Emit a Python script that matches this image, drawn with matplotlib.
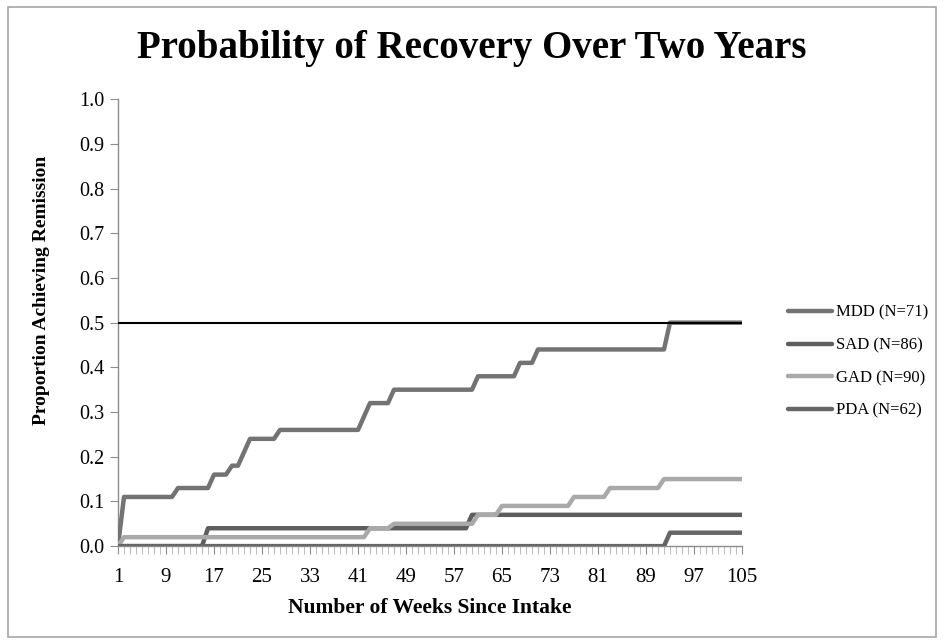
import matplotlib
matplotlib.use("Agg")
import matplotlib.pyplot as plt
from matplotlib.patches import Rectangle
from matplotlib.ticker import MultipleLocator, FixedLocator

plt.rcParams["font.family"] = ["Liberation Serif", "DejaVu Serif"]

# ── 데이터 (꺾이는 지점: 주차, 비율) ──────────────
mdd_weeks = [1, 2, 10, 11, 16, 17, 19, 20, 21, 22, 23, 27, 28, 41, 42, 43, 46, 47,
             60, 61, 67, 68, 70, 71, 92, 93, 105]
mdd_vals = [0.0, 0.11, 0.11, 0.13, 0.13, 0.16, 0.16, 0.18, 0.18, 0.21, 0.24, 0.24, 0.26,
            0.26, 0.29, 0.32, 0.32, 0.35, 0.35, 0.38, 0.38, 0.41, 0.41, 0.44, 0.44, 0.50, 0.50]

sad_weeks = [1, 15, 16, 59, 60, 105]
sad_vals = [0.0, 0.0, 0.04, 0.04, 0.07, 0.07]

gad_weeks = [1, 2, 42, 43, 46, 47, 60, 61, 64, 65, 76, 77, 82, 83, 91, 92, 105]
gad_vals = [0.0, 0.02, 0.02, 0.04, 0.04, 0.05, 0.05, 0.07, 0.07, 0.09, 0.09, 0.11,
            0.11, 0.13, 0.13, 0.15, 0.15]

pda_weeks = [1, 92, 93, 105]
pda_vals = [0.0, 0.0, 0.03, 0.03]

ref_weeks = [1, 105]
ref_vals = [0.5, 0.5]

labels = ["MDD (N=71)", "SAD (N=86)", "GAD (N=90)", "PDA (N=62)"]
colors = ["#737373", "#5e5e5e", "#a9a9a9", "#666666"]
xtick_labels = list(range(1, 106, 8))

# ── 그림 ──────────────────────────────────────
fig = plt.figure(figsize=(9.44, 6.44), dpi=100)
ax = fig.add_axes([0.125, 0.152, 0.661, 0.694])

series = [(mdd_weeks, mdd_vals), (sad_weeks, sad_vals),
          (gad_weeks, gad_vals), (pda_weeks, pda_vals)]
handles = []
for (w, v), lab, c in zip(series, labels, colors):
    h, = ax.plot(w, v, color=c, lw=3.2, label=lab, solid_capstyle="round",
                 solid_joinstyle="round", zorder=3)
    handles.append(h)
ax.plot(ref_weeks, ref_vals, color="black", lw=1.5, zorder=4)

ax.set_xlim(1, 105)
ax.set_ylim(0, 1.0)
ax.yaxis.set_major_locator(MultipleLocator(0.1))
ax.yaxis.set_major_formatter(matplotlib.ticker.FormatStrFormatter("%.1f"))
ax.xaxis.set_major_locator(FixedLocator(xtick_labels))
ax.xaxis.set_minor_locator(MultipleLocator(1))
ax.tick_params(axis="both", which="major", direction="out", length=6, color="#8c8c8c",
               labelsize=14.5, pad=4)
ax.tick_params(axis="x", which="minor", direction="out", length=6, color="#b0b0b0")
ax.tick_params(axis="x", which="major", labelsize=15, pad=10)
for s in ["top", "right"]:
    ax.spines[s].set_visible(False)
for s in ["left", "bottom"]:
    ax.spines[s].set_color("#8c8c8c")
    ax.spines[s].set_linewidth(1.0)

ax.set_xlabel("Number of Weeks Since Intake", fontsize=15.5, fontweight="bold")
ax.xaxis.set_label_coords(0.5, -0.115)
ax.set_ylabel("Proportion Achieving Remission", fontsize=14, fontweight="bold")
ax.yaxis.set_label_coords(-0.109, 0.573)

fig.text(0.5, 0.925, "Probability of Recovery Over Two Years", ha="center", va="center",
         fontsize=28, fontweight="bold")

fig.legend(handles=handles, labels=labels, loc="upper left", bbox_to_anchor=(0.828, 0.537),
           frameon=False, fontsize=12, handlelength=2.6, handletextpad=0.25,
           labelspacing=1.0, borderaxespad=0)

fig.patches.append(Rectangle((0.009, 0.011), 0.982, 0.978, transform=fig.transFigure,
                             fill=False, edgecolor="#a6a6a6", lw=1.2))

fig.savefig("out.png", dpi=100)
